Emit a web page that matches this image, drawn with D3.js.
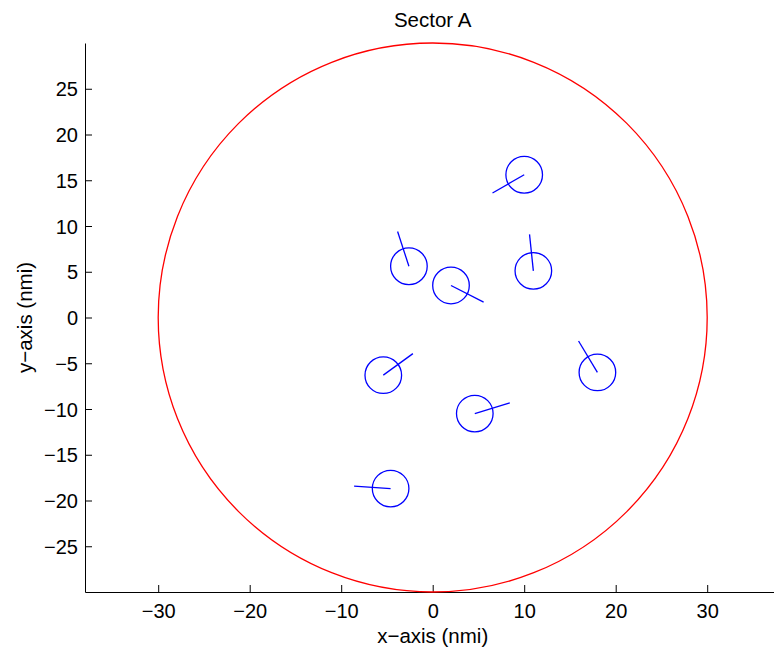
<!DOCTYPE html>
<html>
<head>
<meta charset="utf-8">
<script src="https://cdn.jsdelivr.net/npm/d3@7"></script>
<style>
  html, body { margin: 0; padding: 0; background: #fff; overflow: hidden; }
  svg { display: block; }
  text { font-family: "Liberation Sans", Arial, Helvetica, sans-serif; fill: #000; }
</style>
</head>
<body>
<script>
// Aircraft positions (nmi) and headings (degrees clockwise from north)
const aircraftX = [10.0, -2.6, 2.0, 11.0, -5.4, 4.6, 18.0, -4.6];
const aircraftY = [15.6, 5.6, 3.5, 5.1, -6.3, -10.5, -6.0, -18.7];
const headings  = [240, 342, 117, 354, 54, 73, 329, 274];

const sectorRadius = 30;      // sector boundary radius, nmi
const aircraftRadius = 2;     // protected zone radius, nmi
const headingLength = 4;      // heading vector length, nmi

const xTicks = [-30, -20, -10, 0, 10, 20, 30];
const yTicks = [-25, -20, -15, -10, -5, 0, 5, 10, 15, 20, 25];
const xDomain = [-38, 38];
const yDomain = [-30, 30];

const W = 774, H = 652;
const pxPerUnit = 9.15;
const margin = { left: 85, top: 43 };
const plotW = (xDomain[1] - xDomain[0]) * pxPerUnit;
const plotH = (yDomain[1] - yDomain[0]) * pxPerUnit;

const svg = d3.select("body").append("svg")
  .attr("width", W).attr("height", H);

const x = d3.scaleLinear().domain(xDomain).range([margin.left, margin.left + plotW]);
const y = d3.scaleLinear().domain(yDomain).range([margin.top + plotH, margin.top]);

// Axes (ticks pointing inward)
const xAxis = svg.append("g")
  .attr("transform", `translate(0,${margin.top + plotH})`)
  .call(d3.axisBottom(x).tickValues(xTicks).tickSizeInner(-7).tickSizeOuter(0).tickPadding(12));
const yAxis = svg.append("g")
  .attr("transform", `translate(${margin.left},0)`)
  .call(d3.axisLeft(y).tickValues(yTicks).tickSizeInner(-7).tickSizeOuter(0).tickPadding(7));

[xAxis, yAxis].forEach(g => {
  g.select(".domain").attr("stroke", "#000").attr("stroke-width", 1);
  g.selectAll(".tick line").attr("stroke", "#000").attr("stroke-width", 1);
  g.selectAll(".tick text").attr("font-size", 20).attr("fill", "#000")
    .style("font-family", '"Liberation Sans", Arial, Helvetica, sans-serif');
});
yAxis.selectAll(".tick text").attr("x", -7).attr("dy", "0.35em");
xAxis.selectAll(".tick text").attr("dy", "0.71em");

// Sector boundary
const unit = x(1) - x(0);
svg.append("circle")
  .attr("cx", x(0)).attr("cy", y(0))
  .attr("r", sectorRadius * unit)
  .attr("fill", "none").attr("stroke", "#ff0000").attr("stroke-width", 1.3);

// Aircraft: protected zone circles plus heading vectors
const aircraft = aircraftX.map((ax, i) => ({ x: ax, y: aircraftY[i], hdg: headings[i] }));
const g = svg.append("g");
g.selectAll("circle.ac").data(aircraft).join("circle")
  .attr("class", "ac")
  .attr("cx", d => x(d.x)).attr("cy", d => y(d.y))
  .attr("r", aircraftRadius * unit)
  .attr("fill", "none").attr("stroke", "#0000ff").attr("stroke-width", 1.3);
g.selectAll("line.hdg").data(aircraft).join("line")
  .attr("class", "hdg")
  .attr("x1", d => x(d.x)).attr("y1", d => y(d.y))
  .attr("x2", d => x(d.x + headingLength * Math.sin(d.hdg * Math.PI / 180)))
  .attr("y2", d => y(d.y + headingLength * Math.cos(d.hdg * Math.PI / 180)))
  .attr("stroke", "#0000ff").attr("stroke-width", 1.3);

// Titles
svg.append("text")
  .attr("x", x(0)).attr("y", 27)
  .attr("text-anchor", "middle").attr("font-size", 20.5)
  .text("Sector A");
svg.append("text")
  .attr("x", x(0)).attr("y", 643)
  .attr("text-anchor", "middle").attr("font-size", 20.5)
  .text("x\u2212axis (nmi)");
svg.append("text")
  .attr("transform", `translate(32,${y(0)}) rotate(-90)`)
  .attr("text-anchor", "middle").attr("font-size", 20.5)
  .text("y\u2212axis (nmi)");
</script>
</body>
</html>
